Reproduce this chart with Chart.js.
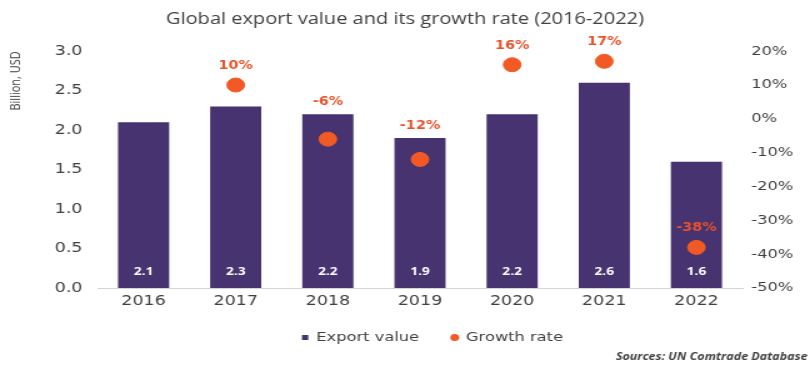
<!DOCTYPE html>
<html>
<head>
<meta charset="utf-8">
<title>Global export value and its growth rate</title>
<script src="https://cdn.jsdelivr.net/npm/chart.js@4"></script>
<style>
  html, body { margin: 0; padding: 0; background: #fff; overflow: hidden; }
  /* o gráfico é desenhado mais estreito e esticado na horizontal */
  #wrap { width: 648px; height: 366px; transform: scaleX(1.25); transform-origin: 0 0; }
</style>
</head>
<body>
<div id="wrap"><canvas id="grafico"></canvas></div>
<script>
// Dados do gráfico
const anos = ['2016', '2017', '2018', '2019', '2020', '2021', '2022'];
const valorExportacao = [2.1, 2.3, 2.2, 1.9, 2.2, 2.6, 1.6]; // bilhões USD
const taxaCrescimento = [null, 10, -6, -12, 16, 17, -38];   // %
const ticksEsquerda = [0, 0.5, 1, 1.5, 2, 2.5, 3];
const ticksDireita = [-50, -40, -30, -20, -10, 0, 10, 20];

const corBarra = '#46336f';
const corPonto = '#f15a24';
const corRotulo = '#e9532b';
const corTexto = '#404040';

// Rótulos dos valores (dentro das barras e acima dos pontos) + fonte
const rotulos = {
  id: 'rotulos',
  afterLayout(chart) {
    // legenda um pouco deslocada para a direita
    chart.legend.left += 22;
    chart.legend.right += 22;
  },
  afterDatasetsDraw(chart) {
    const ctx = chart.ctx;
    ctx.save();
    ctx.textAlign = 'center';
    ctx.textBaseline = 'middle';

    const barras = chart.getDatasetMeta(1).data;
    ctx.font = 'bold 11px "Open Sans"';
    ctx.fillStyle = '#ffffff';
    barras.forEach((bar, i) => {
      ctx.fillText(valorExportacao[i].toFixed(1), bar.x, chart.chartArea.bottom - 16);
    });

    const pontos = chart.getDatasetMeta(0).data;
    ctx.font = 'bold 11.5px "DejaVu Sans"';
    ctx.fillStyle = corRotulo;
    pontos.forEach((p, i) => {
      if (taxaCrescimento[i] === null) return;
      let y = p.y - 19;
      const topo = barras[i].y;
      // ponto logo abaixo do topo da barra: rótulo vai para cima da barra
      if (p.y > topo && p.y - topo < 30) y = topo - 12;
      ctx.fillText(taxaCrescimento[i] + '%', p.x, y);
    });

    ctx.font = 'italic bold 10px "Open Sans"';
    ctx.fillStyle = corTexto;
    ctx.textAlign = 'right';
    ctx.fillText('Sources: UN Comtrade Database', 646, 357);
    ctx.restore();
  }
};

const ctx = document.getElementById('grafico').getContext('2d');
new Chart(ctx, {
  data: {
    labels: anos,
    datasets: [
      {
        type: 'line',
        label: 'Growth rate',
        data: taxaCrescimento,
        yAxisID: 'y1',
        showLine: false,
        pointRadius: 7,
        pointHoverRadius: 7,
        pointBackgroundColor: corPonto,
        pointBorderColor: corPonto,
        backgroundColor: corPonto,
        borderColor: corPonto,
        order: 0
      },
      {
        type: 'bar',
        label: 'Export value',
        data: valorExportacao,
        yAxisID: 'y',
        backgroundColor: corBarra,
        categoryPercentage: 1,
        barPercentage: 0.555,
        order: 1
      }
    ]
  },
  options: {
    responsive: true,
    maintainAspectRatio: false,
    animation: false,
    layout: { padding: { top: 0, bottom: 12, left: 0, right: 0 } },
    plugins: {
      title: {
        display: true,
        text: 'Global export value and its growth rate (2016-2022)',
        color: corTexto,
        font: { family: '"Open Sans"', size: 16, weight: 'normal' },
        padding: { top: 10, bottom: 22 }
      },
      legend: {
        position: 'bottom',
        reverse: true,
        labels: {
          color: corTexto,
          font: { family: '"DejaVu Sans"', size: 13 },
          usePointStyle: true,
          boxWidth: 5,
          boxHeight: 5,
          padding: 26,
          generateLabels(chart) {
            return chart.data.datasets.map((ds, i) => ({
              text: ds.label,
              fillStyle: ds.type === 'bar' ? corBarra : corPonto,
              strokeStyle: ds.type === 'bar' ? corBarra : corPonto,
              lineWidth: 0,
              pointStyle: ds.type === 'bar' ? 'rect' : 'circle',
              datasetIndex: i,
              fontColor: corTexto
            }));
          }
        }
      },
      tooltip: { enabled: false }
    },
    scales: {
      x: {
        grid: { display: false, drawTicks: false },
        border: { color: '#d4d4d4' },
        ticks: { color: corTexto, font: { family: '"DejaVu Sans"', size: 14 }, padding: 5 },
        afterFit(scale) { scale.height = 17; }
      },
      y: {
        position: 'left',
        min: 0,
        max: 3,
        afterBuildTicks(scale) { scale.ticks = ticksEsquerda.map(v => ({ value: v })); },
        afterFit(scale) { scale.width = 78; },
        grid: { display: false, drawTicks: false },
        border: { display: false },
        ticks: {
          color: corTexto,
          font: { family: '"DejaVu Sans"', size: 14 },
          padding: 12,
          callback: v => v.toFixed(1)
        },
        title: {
          display: true,
          text: 'Billion, USD',
          align: 'end',
          color: corTexto,
          font: { family: '"Open Sans"', size: 11 },
          padding: { top: 6, bottom: 0 }
        }
      },
      y1: {
        position: 'right',
        min: -50,
        max: 20,
        afterBuildTicks(scale) { scale.ticks = ticksDireita.map(v => ({ value: v })); },
        afterFit(scale) { scale.width = 54; },
        grid: { display: false, drawTicks: false },
        border: { display: false },
        ticks: {
          color: corTexto,
          font: { family: '"DejaVu Sans"', size: 13 },
          padding: 7,
          callback: v => v + '%'
        }
      }
    }
  },
  plugins: [rotulos]
});
</script>
</body>
</html>
